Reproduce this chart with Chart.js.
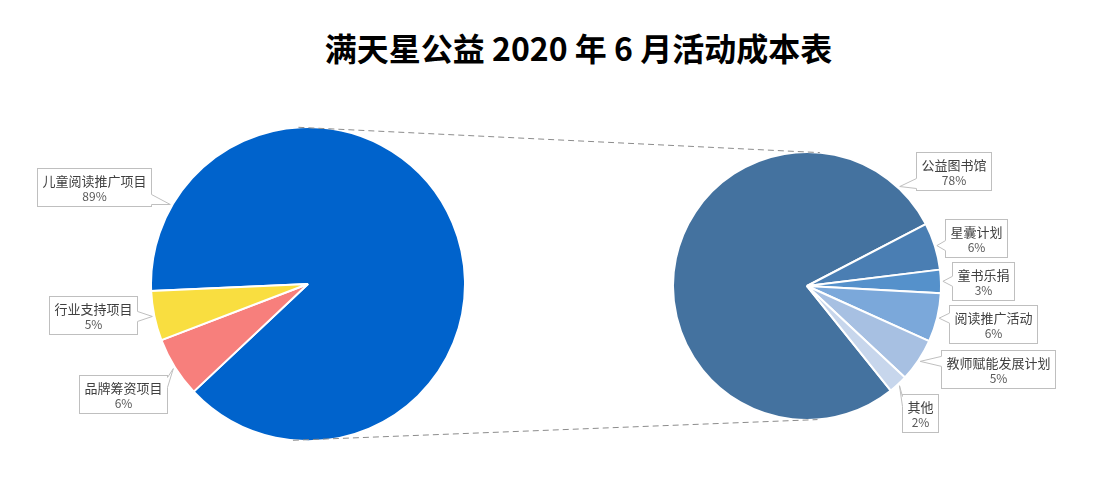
<!DOCTYPE html>
<html>
<head>
<meta charset="utf-8">
<script src="https://cdn.jsdelivr.net/npm/chart.js@4.4.1/dist/chart.umd.min.js"></script>
<style>
  body { margin: 0; background: #fff; width: 1103px; height: 491px; overflow: hidden; position: relative;
         font-family: "Noto Sans CJK SC", sans-serif; }
  #title { position: absolute; left: 54px; width: 1049px; top: 25px; text-align: center;
           font-size: 32px; font-weight: bold; color: #000; line-height: 44px; }
  canvas { position: absolute; }
</style>
</head>
<body>
<div id="title">满天星公益 2020 年 6 月活动成本表</div>
<canvas id="mainPie" width="316" height="316" style="left:150px;top:126px"></canvas>
<canvas id="subPie" width="270" height="270" style="left:672px;top:151px"></canvas>
<canvas id="overlay" width="1103" height="491" style="left:0;top:0"></canvas>
<script>
// main pie: project categories (share of total cost, %)
const mainLabels = ["儿童阅读推广项目", "品牌筹资项目", "行业支持项目"];
const mainValues = [88.7, 6.2, 5.1];
const mainColors = ["#0063CC", "#F77F7C", "#F9DE40"];

// secondary pie: breakdown of 儿童阅读推广项目
const subLabels = ["公益图书馆", "星囊计划", "童书乐捐", "阅读推广活动", "教师赋能发展计划", "其他"];
const subValues = [78.1, 5.7, 2.8, 5.9, 5.2, 2.3];
const subColors = ["#44729F", "#4A7EB3", "#5591CB", "#7BA8DA", "#A7C0E2", "#C7D6EC"];

// callout placement: box centre offset from the tip, optional tip angle (deg)
const mainCallouts = [{ dx: -76, dy: -18, angle: 210 }, { dx: -50, dy: 25 }, { dx: -59, dy: -1 }];
const subCallouts = [{ dx: 54, dy: -16, angle: -47 }, { dx: 39, dy: -8 }, { dx: 40, dy: 0 },
                     { dx: 54, dy: 6 }, { dx: 78, dy: 8 }, { dx: 21, dy: 27 }];

function pieConfig(labels, values, colors, rotation) {
  return {
    type: "pie",
    data: {
      labels: labels,
      datasets: [{ data: values, backgroundColor: colors, borderColor: "#fff", borderWidth: 2, hoverOffset: 0 }]
    },
    options: {
      responsive: false,
      animation: false,
      rotation: rotation,
      plugins: { legend: { display: false }, tooltip: { enabled: false } },
      layout: { padding: 0 }
    }
  };
}

const mainChart = new Chart(document.getElementById("mainPie"), pieConfig(mainLabels, mainValues, mainColors, 267.4));
const subChart = new Chart(document.getElementById("subPie"), pieConfig(subLabels, subValues, subColors, 141.3));

function arcInfo(chart, i) {
  const a = chart.getDatasetMeta(0).data[i];
  const c = chart.canvas;
  return { x: a.x + c.offsetLeft, y: a.y + c.offsetTop, r: a.outerRadius,
           start: a.startAngle, end: a.endAngle };
}

function pointOn(info, deg, extra) {
  const t = deg * Math.PI / 180;
  return [info.x + Math.cos(t) * (info.r + (extra || 0)), info.y + Math.sin(t) * (info.r + (extra || 0))];
}

function clamp(v, lo, hi) { return Math.max(lo, Math.min(hi, v)); }

function drawCallout(ctx, tip, box, name, pct) {
  ctx.font = '13px "Noto Sans CJK SC"';
  const w = Math.round(Math.max(ctx.measureText(name).width, 20) + 10);
  const h = 38;
  const x0 = Math.round(tip[0] + box.dx - w / 2) + 0.5;
  const y0 = Math.round(tip[1] + box.dy - h / 2) + 0.5;

  ctx.fillStyle = "#fff";
  ctx.strokeStyle = "#BFBFBF";
  ctx.lineWidth = 1;
  ctx.fillRect(x0, y0, w, h);
  ctx.strokeRect(x0, y0, w, h);

  let b1, b2;
  if (tip[0] < x0) {
    const by = clamp(tip[1], y0 + 7, y0 + h - 7); b1 = [x0, by - 5]; b2 = [x0, by + 5];
  } else if (tip[0] > x0 + w) {
    const by = clamp(tip[1], y0 + 7, y0 + h - 7); b1 = [x0 + w, by - 5]; b2 = [x0 + w, by + 5];
  } else if (tip[1] < y0) {
    const bx = clamp(tip[0], x0 + 7, x0 + w - 7); b1 = [bx - 5, y0]; b2 = [bx + 5, y0];
  } else {
    const bx = clamp(tip[0], x0 + 7, x0 + w - 7); b1 = [bx - 5, y0 + h]; b2 = [bx + 5, y0 + h];
  }
  ctx.beginPath();
  ctx.moveTo(b1[0], b1[1]); ctx.lineTo(tip[0], tip[1]); ctx.lineTo(b2[0], b2[1]); ctx.closePath();
  ctx.fill();
  ctx.beginPath();
  ctx.moveTo(b1[0], b1[1]); ctx.lineTo(b2[0], b2[1]);
  ctx.strokeStyle = "#fff"; ctx.stroke();
  ctx.beginPath();
  ctx.moveTo(b1[0], b1[1]); ctx.lineTo(tip[0], tip[1]); ctx.lineTo(b2[0], b2[1]);
  ctx.strokeStyle = "#BFBFBF"; ctx.stroke();

  ctx.textAlign = "center";
  ctx.textBaseline = "middle";
  ctx.fillStyle = "#404040";
  ctx.fillText(name, x0 + w / 2, y0 + 12.5);
  ctx.font = '12px "Noto Sans CJK SC"';
  ctx.fillStyle = "#595959";
  ctx.fillText(pct, x0 + w / 2, y0 + 28);
}

function labelPie(ctx, chart, labels, values, callouts) {
  const total = values.reduce((s, v) => s + v, 0);
  labels.forEach((name, i) => {
    const info = arcInfo(chart, i);
    const mid = (info.start + info.end) / 2 * 180 / Math.PI;
    const cfg = callouts[i];
    const tip = pointOn(info, cfg.angle !== undefined ? cfg.angle : mid, 2);
    drawCallout(ctx, tip, cfg, name, Math.round(values[i] / total * 100) + "%");
  });
}

function drawOverlay() {
  const ctx = document.getElementById("overlay").getContext("2d");
  const m = arcInfo(mainChart, 0), s = arcInfo(subChart, 0);

  // connector lines between the two pies
  ctx.save();
  ctx.strokeStyle = "#8C8C8C";
  ctx.lineWidth = 1;
  ctx.setLineDash([6, 4]);
  [[-93.5, -84.5], [95.5, 85.5]].forEach(([a1, a2]) => {
    const p = pointOn(m, a1), q = pointOn(s, a2);
    ctx.beginPath(); ctx.moveTo(p[0], p[1]); ctx.lineTo(q[0], q[1]); ctx.stroke();
  });
  ctx.restore();

  labelPie(ctx, mainChart, mainLabels, mainValues, mainCallouts);
  labelPie(ctx, subChart, subLabels, subValues, subCallouts);
}

if (document.fonts && document.fonts.ready) {
  document.fonts.load('13px "Noto Sans CJK SC"').then(drawOverlay, drawOverlay);
} else {
  drawOverlay();
}
</script>
</body>
</html>
